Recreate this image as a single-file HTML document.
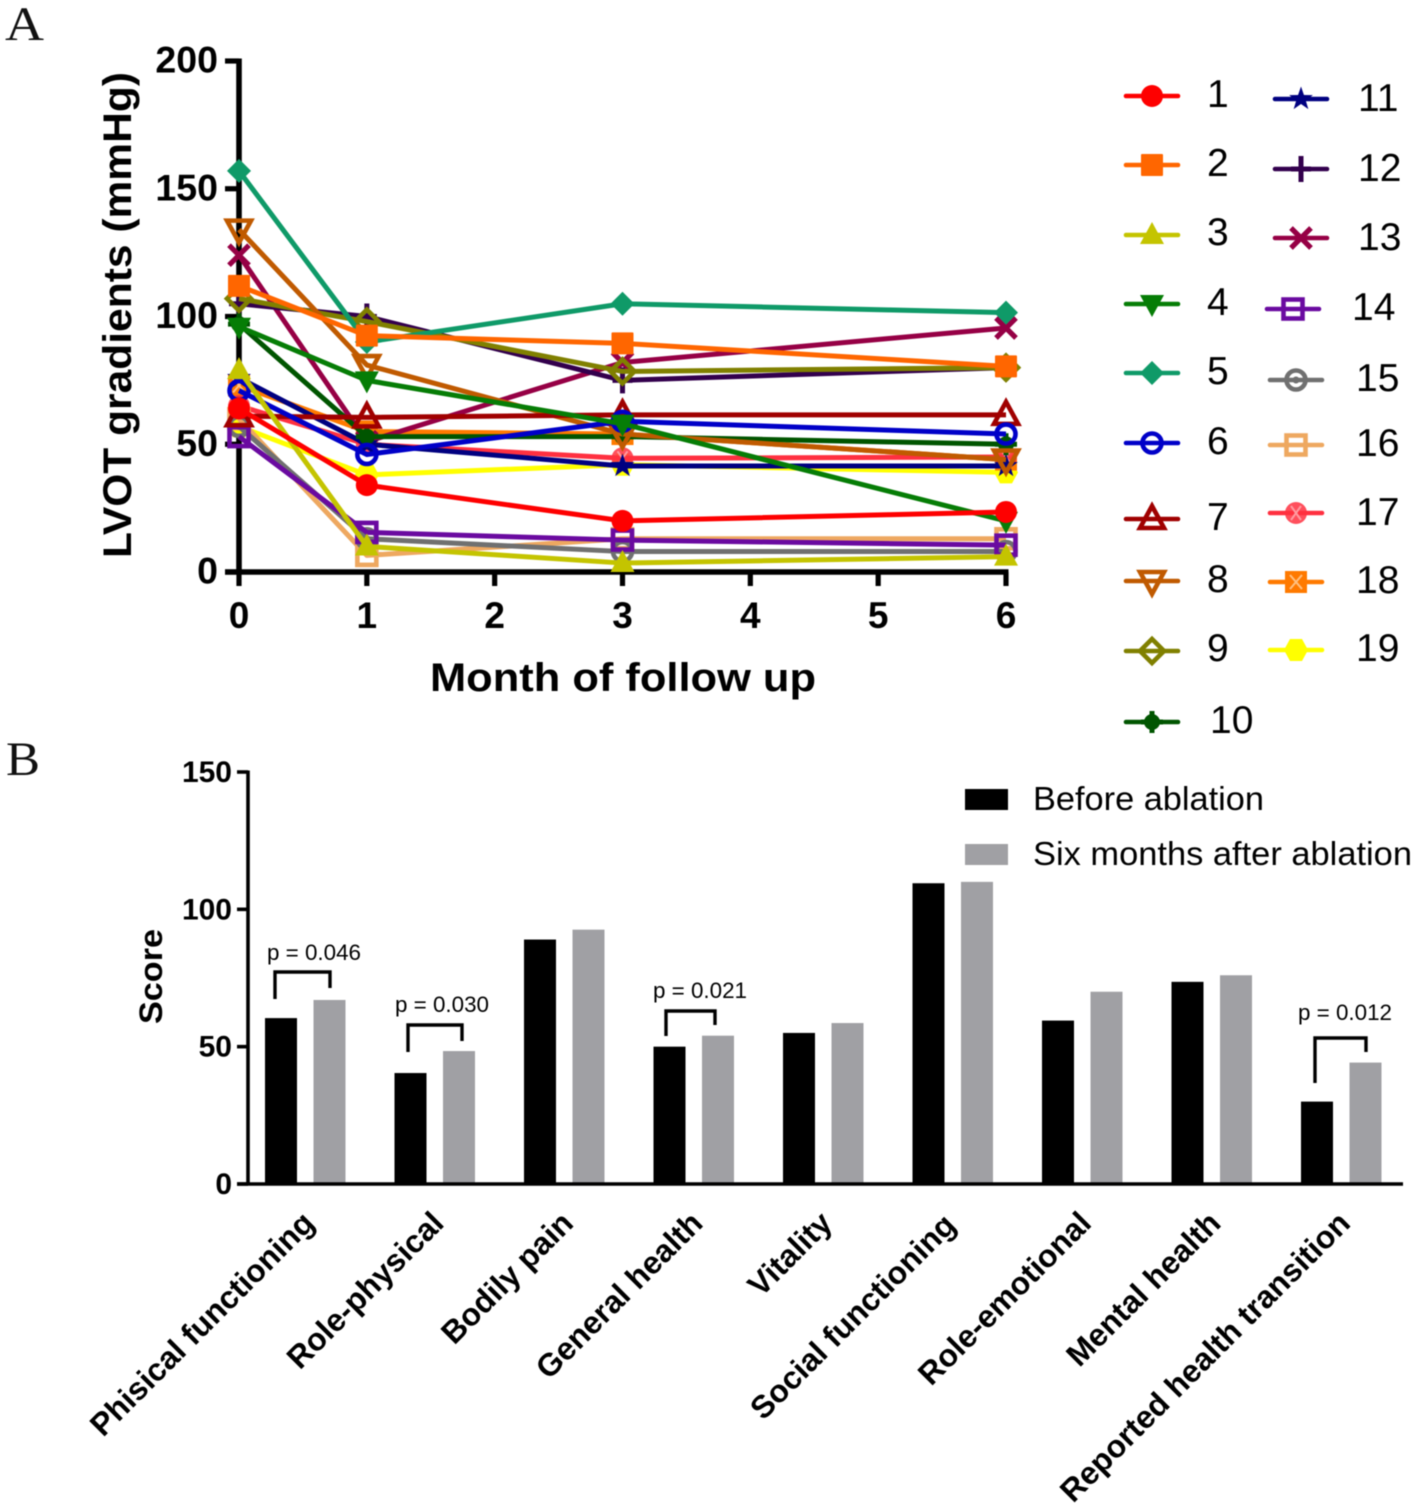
<!DOCTYPE html>
<html>
<head>
<meta charset="utf-8">
<title>LVOT gradients and quality of life scores</title>
<style>
html,body{margin:0;padding:0;background:#fff;}
svg{display:block;filter:blur(0.5px);}
text{font-family:"Liberation Sans",Arial,sans-serif;fill:#000;}
.panel{font-family:"Liberation Serif",serif;font-size:48px;fill:#111;}
.b{font-weight:bold;}
</style>
</head>
<body>
<svg id="fig" width="1417" height="1505" viewBox="0 0 1417 1505" xmlns="http://www.w3.org/2000/svg">
<text class="panel" x="5" y="40" textLength="39" lengthAdjust="spacingAndGlyphs">A</text>
<text class="panel" x="6" y="775" textLength="34" lengthAdjust="spacingAndGlyphs">B</text>
<g id="lineChart"></g>
<g id="lineLegend"></g>
<g id="barChart"></g>
</svg>
<script>
// ---- Panel A data ----
const months = [0, 1, 3, 6];
const xTickLabels = [0, 1, 2, 3, 4, 5, 6];
const yTickLabels = [0, 50, 100, 150, 200];
const seriesNames = ['1','2','3','4','5','6','7','8','9','10','11','12','13','14','15','16','17','18','19'];
const s1  = [64, 34, 20, 23.5];
const s2  = [112, 92.5, 89.5, 80.5];
const s3  = [79, 10, 3.5, 6];
const s4  = [96, 75, 58, 20];
const s5  = [157, 90, 105, 101.5];
const s6  = [71, 46, 59, 54];
const s7  = [61, 60.5, 61.5, 61.5];
const s8  = [134, 81, 54, 44];
const s9  = [107, 98, 78.5, 80];
const s10 = [97, 53, 53, 50];
const s11 = [76, 50, 41.5, 41.5];
const s12 = [105, 100, 75, 80];
const s13 = [124, 51, 82, 95.5];
const s14 = [53, 15.5, 12.5, 10.5];
const s15 = [57, 13, 8, 8];
const s16 = [60, 6.5, 13, 13];
const s17 = [65, 50, 44.5, 45];
const s18 = [73, 55, 54, 44];
const s19 = [57, 38, 42, 39];
const seriesValues = [s1,s2,s3,s4,s5,s6,s7,s8,s9,s10,s11,s12,s13,s14,s15,s16,s17,s18,s19];
const seriesColors = ['#fe0000','#ff6600','#c4c400','#067d06','#0f9a68','#0000c8','#a00000','#c05a00','#808000','#005500','#000080','#33004d','#960045','#6a0aa0','#707070','#eea860','#ff3040','#ff7a00','#ffff00'];
const seriesMarkers = ['circle','square','triUp','triDown','diamond','ring','triUpOpen','triDownOpen','diamondOpen','blob','star','plus','cross','squareOpen','ringDot','squareOpen','ringFill','squareFill','hexagon'];

// ---- Panel B data ----
const categories = ['Phisical functioning','Role-physical','Bodily pain','General health','Vitality','Social functioning','Role-emotional','Mental health','Reported health transition'];
const beforeValues = [60.4, 40.4, 89, 50, 55, 109.5, 59.5, 73.6, 30];
const afterValues = [67, 48.4, 92.6, 54, 58.6, 110, 70, 76, 44.2];
const barTicks = [0, 50, 100, 150];

const NS = 'http://www.w3.org/2000/svg';
function make(parent, tag, attrs, txt){
  const el = document.createElementNS(NS, tag);
  for (const k in attrs) el.setAttribute(k, attrs[k]);
  if (txt !== undefined) el.textContent = txt;
  parent.appendChild(el);
  return el;
}
function polyPts(cx, cy, pts){ return pts.map(p => (cx+p[0]) + ',' + (cy+p[1])).join(' '); }
function drawMarker(g, type, cx, cy, c, k){
  k = k || 1;
  const r = 11*k, sw = 4.6*k;
  const tri = [[0,-13*k],[12*k,9*k],[-12*k,9*k]];
  const tid = [[0,13*k],[12*k,-9*k],[-12*k,-9*k]];
  const dia = [[0,-12*k],[12*k,0],[0,12*k],[-12*k,0]];
  switch(type){
    case 'circle': make(g,'circle',{cx:cx,cy:cy,r:r,fill:c}); break;
    case 'square': make(g,'rect',{x:cx-r,y:cy-r,width:2*r,height:2*r,rx:1,fill:c}); break;
    case 'triUp': make(g,'polygon',{points:polyPts(cx,cy,tri),fill:c}); break;
    case 'triDown': make(g,'polygon',{points:polyPts(cx,cy,tid),fill:c}); break;
    case 'diamond': make(g,'polygon',{points:polyPts(cx,cy,dia),fill:c}); break;
    case 'ring': make(g,'circle',{cx:cx,cy:cy,r:r-1.5*k,fill:'none',stroke:c,'stroke-width':sw}); break;
    case 'triUpOpen': make(g,'polygon',{points:polyPts(cx,cy,tri),fill:'none',stroke:c,'stroke-width':sw}); break;
    case 'triDownOpen': make(g,'polygon',{points:polyPts(cx,cy,tid),fill:'none',stroke:c,'stroke-width':sw}); break;
    case 'diamondOpen': make(g,'polygon',{points:polyPts(cx,cy,dia),fill:'none',stroke:c,'stroke-width':sw}); break;
    case 'blob':
      make(g,'circle',{cx:cx,cy:cy,r:8*k,fill:c});
      make(g,'path',{d:'M'+cx+' '+(cy-11*k)+'V'+(cy+11*k)+'M'+(cx-11*k)+' '+cy+'H'+(cx+11*k),stroke:c,'stroke-width':5*k,fill:'none'});
      break;
    case 'star': {
      const p = [];
      for (let i=0;i<10;i++){ const a=-Math.PI/2+i*Math.PI/5, q=(i%2?5:12.5)*k; p.push([q*Math.cos(a),q*Math.sin(a)]); }
      make(g,'polygon',{points:polyPts(cx,cy,p),fill:c}); break;
    }
    case 'plus': make(g,'path',{d:'M'+cx+' '+(cy-13*k)+'V'+(cy+13*k)+'M'+(cx-10*k)+' '+cy+'H'+(cx+10*k),stroke:c,'stroke-width':5*k,fill:'none'}); break;
    case 'cross': make(g,'path',{d:'M'+(cx-10*k)+' '+(cy-10*k)+'L'+(cx+10*k)+' '+(cy+10*k)+'M'+(cx-10*k)+' '+(cy+10*k)+'L'+(cx+10*k)+' '+(cy-10*k),stroke:c,'stroke-width':5.2*k,fill:'none'}); break;
    case 'squareOpen': make(g,'rect',{x:cx-r+1.5*k,y:cy-r+1.5*k,width:2*r-3*k,height:2*r-3*k,fill:'none',stroke:c,'stroke-width':sw}); break;
    case 'ringDot':
      make(g,'circle',{cx:cx,cy:cy,r:r-1.5*k,fill:'none',stroke:c,'stroke-width':sw});
      make(g,'circle',{cx:cx,cy:cy,r:3.5*k,fill:c}); break;
    case 'ringFill':
      make(g,'circle',{cx:cx,cy:cy,r:r,fill:c,opacity:.85});
      make(g,'path',{d:'M'+(cx-5*k)+' '+(cy-7*k)+'L'+(cx+5*k)+' '+(cy+7*k)+'M'+(cx-5*k)+' '+(cy+7*k)+'L'+(cx+5*k)+' '+(cy-7*k),stroke:'#ff9aa0','stroke-width':2*k,fill:'none'}); break;
    case 'squareFill':
      make(g,'rect',{x:cx-r,y:cy-r,width:2*r,height:2*r,fill:c});
      make(g,'path',{d:'M'+(cx-6*k)+' '+(cy-7*k)+'L'+(cx+6*k)+' '+(cy+7*k)+'M'+(cx-6*k)+' '+(cy+7*k)+'L'+(cx+6*k)+' '+(cy-7*k),stroke:'#ffc080','stroke-width':2*k,fill:'none'}); break;
    case 'hexagon': make(g,'polygon',{points:polyPts(cx,cy,[[-6*k,-11*k],[6*k,-11*k],[12*k,0],[6*k,11*k],[-6*k,11*k],[-12*k,0]]),fill:c}); break;
  }
}

// ---- Panel A ----
const xA = v => 239 + v * (1006 - 239) / 6;
const yA = v => 572 - v * (572 - 61) / 200;
const A = document.getElementById('lineChart');

const axA = make(A,'g',{});


make(axA,'line',{x1:xA(0),x2:xA(0),y1:yA(200)-2.5,y2:yA(0)+2.5,stroke:'#000','stroke-width':5.6});
make(axA,'line',{x1:xA(0)-14,x2:xA(6)+2.5,y1:yA(0),y2:yA(0),stroke:'#000','stroke-width':5.6});
yTickLabels.forEach(t => {
  make(axA,'line',{x1:xA(0)-14,x2:xA(0),y1:yA(t),y2:yA(t),stroke:'#000','stroke-width':5.2});
  const lab = make(axA,'text',{x:218,y:yA(t)+11.5,'text-anchor':'end','font-size':37.5,'font-weight':'bold'},t);
  
  
});
xTickLabels.forEach(t => {
  make(axA,'line',{x1:xA(t),x2:xA(t),y1:yA(0),y2:yA(0)+14,stroke:'#000','stroke-width':5.2});
  const lab = make(axA,'text',{x:xA(t),y:628,'text-anchor':'middle','font-size':37,'font-weight':'bold'},t);
  
  
});

for (let i = seriesValues.length - 1; i >= 0; i--) {
  const g = make(A,'g',{});
  
  
  const pts = seriesValues[i].map((v,j) => xA(months[j]) + ',' + yA(v)).join(' ');
  const line = make(g,'polyline',{points:pts,fill:'none',stroke:seriesColors[i],'stroke-width':5,'stroke-linejoin':'round'});
  
  
  seriesValues[i].forEach((v,j) => drawMarker(g, seriesMarkers[i], xA(months[j]), yA(v), seriesColors[i], 1));
}

const xtA = make(A,'text',{x:430,y:691,'font-size':40,'font-weight':'bold',textLength:386,lengthAdjust:'spacingAndGlyphs'},'Month of follow up');


const ytA = make(A,'text',{transform:'translate(131,558) rotate(-90)','font-size':40,'font-weight':'bold',textLength:486,lengthAdjust:'spacingAndGlyphs'},'LVOT gradients (mmHg)');



// ---- Legend ----
const L = document.getElementById('lineLegend');
function legendEntry(i, mx, my, tx, ty){
  const g = make(L,'g',{});
  
  
  make(g,'line',{x1:mx-26,x2:mx+26,y1:my,y2:my,stroke:seriesColors[i],'stroke-width':4.6,'stroke-linecap':'round'});
  drawMarker(g, seriesMarkers[i], mx, my, seriesColors[i], 1);
  make(g,'text',{x:tx,y:ty,'font-size':39},seriesNames[i]);
}
legendEntry(0,1152,96,1207,107);
legendEntry(1,1152,165,1207,176);
legendEntry(2,1152,235,1207,245);
legendEntry(3,1152,304,1207,315);
legendEntry(4,1152,373,1207,384);
legendEntry(5,1152,443,1207,454);
legendEntry(6,1152,519,1207,530);
legendEntry(7,1152,581,1207,592);
legendEntry(8,1152,651,1207,661);
legendEntry(9,1152,722,1210,733);
legendEntry(10,1301,99,1358,111);
legendEntry(11,1301,169,1358,181);
legendEntry(12,1301,238,1358,250);
legendEntry(13,1293,309,1352,320);
legendEntry(14,1296,380,1356,391);
legendEntry(15,1296,445,1356,456);
legendEntry(16,1296,513,1356,525);
legendEntry(17,1296,582,1356,593);
legendEntry(18,1296,650,1356,661);

// ---- Panel B ----
const yB = v => 1184 - v * (1184 - 772) / 150;
const xB = i => 265 + i * 129.5;
const barW = 32, barGap = 48.5;
const B = document.getElementById('barChart');

categories.forEach((c,i) => {
  const g = make(B,'g',{});
  
  
  const b1 = make(g,'rect',{x:xB(i),y:yB(beforeValues[i]),width:barW,height:yB(0)-yB(beforeValues[i]),fill:'#000'});
  
  
  const b2 = make(g,'rect',{x:xB(i)+barGap,y:yB(afterValues[i]),width:barW,height:yB(0)-yB(afterValues[i]),fill:'#a0a0a4'});
  
  
  const nudge = c === 'Social functioning' ? -6 : 0;
  const lab = make(g,'text',{transform:'translate('+(xB(i)+51+nudge)+','+(1225-nudge/3)+') rotate(-45)','text-anchor':'end','font-size':31.7,'font-weight':'bold'},c);
  
  
});

const axB = make(B,'g',{});


make(axB,'line',{x1:248,x2:248,y1:770.5,y2:1185.5,stroke:'#000','stroke-width':3.6});
make(axB,'line',{x1:237,x2:1403,y1:1184,y2:1184,stroke:'#000','stroke-width':3.6});
barTicks.forEach(t => {
  make(axB,'line',{x1:237,x2:248,y1:yB(t),y2:yB(t),stroke:'#000','stroke-width':3.6});
  const lab = make(axB,'text',{x:232,y:yB(t)+10,'text-anchor':'end','font-size':30,'font-weight':'bold'},t);
  
  
});
const ytB = make(B,'text',{transform:'translate(162,1024) rotate(-90)','font-size':32,'font-weight':'bold',textLength:95,lengthAdjust:'spacingAndGlyphs'},'Score');



function bracket(i, lOff, rOff, topY, leftY, rightY, tx, ty, label){
  const g = make(B,'g',{});
  
  
  const l = xB(i) + lOff, r = xB(i) + rOff;
  make(g,'path',{d:'M'+l+' '+leftY+'V'+topY+'H'+r+'V'+rightY,fill:'none',stroke:'#000','stroke-width':3.4});
  make(g,'text',{x:tx,y:ty,'text-anchor':'middle','font-size':22.4,fill:'#111'},label);
}
bracket(0, 10, 65, 972, 999, 988, 314, 960, 'p = 0.046');
bracket(1, 13.5, 67.5, 1025, 1052, 1041, 442, 1012, 'p = 0.030');
bracket(3, 12.5, 61.5, 1011, 1036, 1025, 700, 998, 'p = 0.021');
bracket(8, 14, 65, 1038, 1083, 1052, 1345, 1020, 'p = 0.012');

const lb = make(B,'g',{});


make(lb,'rect',{x:965,y:789,width:43,height:21,fill:'#000'});
make(lb,'text',{x:1033,y:810,'font-size':33,textLength:231,lengthAdjust:'spacingAndGlyphs'},'Before ablation');
make(lb,'rect',{x:965,y:844,width:43,height:21,fill:'#a0a0a4'});
make(lb,'text',{x:1033,y:865,'font-size':33,textLength:379,lengthAdjust:'spacingAndGlyphs'},'Six months after ablation');
</script>
</body>
</html>
